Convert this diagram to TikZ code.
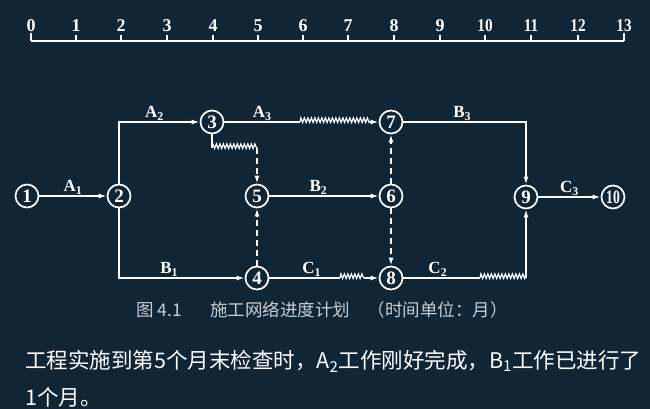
\documentclass[tikz,border=0pt]{standalone}
\usepackage{graphicx}
\usepackage{fontspec}
\setmainfont{Liberation Serif}
\newfontfamily\cjk{Noto Sans CJK SC}
\usepackage{tikz}
\usetikzlibrary{arrows.meta, decorations.pathmorphing}
\tikzset{>=latex}
\definecolor{bgblue}{RGB}{16, 37, 53}
\definecolor{capgray}{RGB}{200, 205, 210}

\begin{document}
\begin{tikzpicture}[x = 1pt, y = -1pt,
  ev/.style = {circle, draw = white, line width = 1.7pt, minimum size = 23pt, inner sep = 0pt, text = white, font = \fontsize{19}{19}\selectfont\bfseries},
  wk/.style = {white, line width = 1.7pt},
  arr/.style = {wk, -{Latex[length = 8pt, width = 5pt]}},
  dum/.style = {arr, dash pattern = on 6pt off 4pt},
  wave/.style = {wk, line width = 1.2pt, decorate, decoration = {zigzag, segment length = 3.5pt, amplitude = 2.3pt, raise = 1.8pt}},
  lbl/.style = {text = white, font = \fontsize{17}{17}\selectfont\bfseries, inner sep = 1pt},
  tick/.style = {text = white, font = \fontsize{18}{18}\selectfont\bfseries, inner sep = 1pt, anchor = south}]
\fill[bgblue] (0,0) rectangle (650,409);
\useasboundingbox (0,0) rectangle (650,409);

% time scale
\draw[white, line width = 1.5pt] (31,41) -- (624,41);
\draw[white, line width = 1.5pt] (31,41) -- (31,33);
\draw[white, line width = 1.5pt] (76,41) -- (76,35);
\draw[white, line width = 1.5pt] (121,41) -- (121,35);
\draw[white, line width = 1.5pt] (167,41) -- (167,35);
\draw[white, line width = 1.5pt] (213,41) -- (213,35);
\draw[white, line width = 1.5pt] (258,41) -- (258,35);
\draw[white, line width = 1.5pt] (303,41) -- (303,35);
\draw[white, line width = 1.5pt] (348,41) -- (348,35);
\draw[white, line width = 1.5pt] (394,41) -- (394,35);
\draw[white, line width = 1.5pt] (440,41) -- (440,35);
\draw[white, line width = 1.5pt] (485,41) -- (485,35);
\draw[white, line width = 1.5pt] (531,41) -- (531,35);
\draw[white, line width = 1.5pt] (578,41) -- (578,35);
\draw[white, line width = 1.5pt] (624,41) -- (624,33);
\node[tick] (t0) at (31,33) {0};
\node[tick] (t1) at (76,33) {1};
\node[tick] (t2) at (121,33) {2};
\node[tick] (t3) at (167,33) {3};
\node[tick] (t4) at (213,33) {4};
\node[tick] (t5) at (258,33) {5};
\node[tick] (t6) at (303,33) {6};
\node[tick] (t7) at (348,33) {7};
\node[tick] (t8) at (394,33) {8};
\node[tick] (t9) at (440,33) {9};
\node[tick] (t10) at (485,33) {\scalebox{0.85}[1]{10}};
\node[tick] (t11) at (531,33) {\scalebox{0.85}[1]{11}};
\node[tick] (t12) at (578,33) {\scalebox{0.85}[1]{12}};
\node[tick] (t13) at (624,33) {\scalebox{0.85}[1]{13}};

% events
\node[ev] (n1) at (27, 196) {1};
\node[ev] (n2) at (119, 196) {2};
\node[ev] (n3) at (212, 122) {3};
\node[ev] (n4) at (257, 278) {4};
\node[ev] (n5) at (257, 196) {5};
\node[ev] (n6) at (391, 196) {6};
\node[ev] (n7) at (391, 122) {7};
\node[ev] (n8) at (391, 278) {8};
\node[ev] (n9) at (526, 197) {9};
\node[ev] (n10) at (613, 197) {\scalebox{0.72}[1]{10}};

\coordinate (a3w) at (300, 122);
\coordinate (a3e) at (370, 122);
\coordinate (f3a) at (212, 148);
\coordinate (f3b) at (257, 148);
\coordinate (c1w) at (340, 278);
\coordinate (c1e) at (364, 278);
\coordinate (c2w) at (480, 278);
\coordinate (c2e) at (526, 278);

% works
\draw[arr] (n1) -- node[lbl, above] (lA1) {A\textsubscript{1}} (n2);
\draw[arr] (n2) |- node[lbl, above, pos = 0.72] (lA2) {A\textsubscript{2}} (n3);
\draw[wk] (n3) -- node[lbl, above] (lA3) {A\textsubscript{3}} (a3w);
\draw[wave] (a3w) -- (a3e);
\draw[arr] (a3e) -- (n7);
\draw[wk] (n3) -- (f3a);
\draw[wave] (f3a) -- (f3b);
\draw[dum] (f3b) -- (n5);
\draw[arr] (n5) -- node[lbl, above, pos = 0.45] (lB2) {B\textsubscript{2}} (n6);
\draw[dum] (n4) -- (n5);
\draw[dum] (n6) -- (n7);
\draw[dum] (n6) -- (n8);
\draw[arr] (n2) |- node[lbl, above, pos = 0.7] (lB1) {B\textsubscript{1}} (n4);
\draw[wk] (n4) -- node[lbl, above, pos = 0.6] (lC1) {C\textsubscript{1}} (c1w);
\draw[wave] (c1w) -- (c1e);
\draw[arr] (c1e) -- (n8);
\draw[arr] (n7) -| node[lbl, above, pos = 0.24] (lB3) {B\textsubscript{3}} (n9);
\draw[wk] (n8) -- node[lbl, above, pos = 0.45] (lC2) {C\textsubscript{2}} (c2w);
\draw[wave] (c2w) -- (c2e);
\draw[arr] (c2e) -- (n9);
\draw[arr] (n9) -- node[lbl, above] (lC3) {C\textsubscript{3}} (n10);

% caption and text
\node[text = capgray, font = \cjk\fontsize{17.5}{17.5}\selectfont] (cap) at (322, 310) {图 4.1\hspace{1.6em}施工网络进度计划\hspace{1em}（时间单位：月）};
\node[anchor = west, text = white, font = \cjk\fontsize{21.5}{21.5}\selectfont, inner sep = 0pt] (txt1) at (25, 361) {工程实施到第5个月末检查时，A\textsubscript{2}工作刚好完成，B\textsubscript{1}工作已进行了};
\node[anchor = west, text = white, font = \cjk\fontsize{21.5}{21.5}\selectfont, inner sep = 0pt] (txt2) at (25, 397) {1个月。};
\end{tikzpicture}
\end{document}
